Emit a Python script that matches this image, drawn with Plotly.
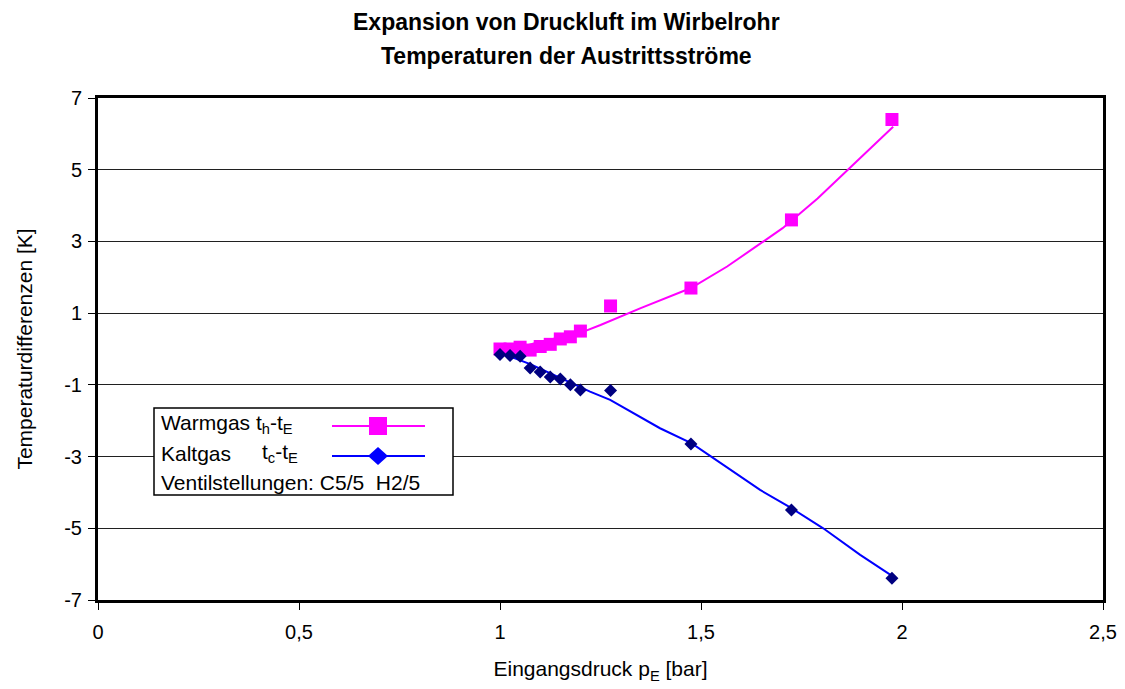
import plotly.graph_objects as go

# ---- data ----
pressure = [1.0, 1.025, 1.05, 1.075, 1.1, 1.125, 1.15, 1.175, 1.2, 1.275, 1.475, 1.725, 1.975]
warm_dt = [0.0, 0.0, 0.05, -0.03, 0.07, 0.13, 0.28, 0.34, 0.5, 1.2, 1.7, 3.6, 6.4]
cold_dt = [-0.15, -0.18, -0.2, -0.53, -0.64, -0.78, -0.84, -1.0, -1.14, -1.16, -2.65, -4.49, -6.39]

warm_fit_x = [1.0, 1.1, 1.2, 1.25, 1.35, 1.475, 1.565, 1.647, 1.703, 1.79, 1.862, 1.978]
warm_fit_y = [-0.1, 0.2, 0.45, 0.67, 1.14, 1.7, 2.3, 2.95, 3.37, 4.2, 4.97, 6.2]
cold_fit_x = [1.0, 1.075, 1.104, 1.224, 1.274, 1.398, 1.477, 1.526, 1.647, 1.725, 1.804, 1.896, 1.978]
cold_fit_y = [-0.1, -0.42, -0.57, -1.19, -1.42, -2.21, -2.63, -3.0, -3.93, -4.44, -5.0, -5.74, -6.35]

x_ticks = [0, 0.5, 1, 1.5, 2, 2.5]
x_labels = ["0", "0,5", "1", "1,5", "2", "2,5"]
y_ticks = [-7, -5, -3, -1, 1, 3, 5, 7]
y_labels = ["-7", "-5", "-3", "-1", "1", "3", "5", "7"]

FONT = "Liberation Sans, Arial, sans-serif"
W, H = 1125, 689
L, R, T, B = 98, 22, 98, 89
PW, PH = W - L - R, H - T - B


def px(xp):
    return (xp - L) / PW


def py(yp):
    return (H - B - yp) / PH


fig = go.Figure()
fig.add_trace(go.Scatter(x=warm_fit_x, y=warm_fit_y, mode="lines",
                         line=dict(color="#FF00FF", width=2),
                         showlegend=False, hoverinfo="skip"))
fig.add_trace(go.Scatter(x=cold_fit_x, y=cold_fit_y, mode="lines",
                         line=dict(color="#0000FF", width=2),
                         showlegend=False, hoverinfo="skip"))
fig.add_trace(go.Scatter(x=pressure, y=warm_dt, mode="markers", name="Warmgas",
                         marker=dict(symbol="square", size=13, color="#FF00FF",
                                     line=dict(width=0)),
                         showlegend=False))
fig.add_trace(go.Scatter(x=pressure, y=cold_dt, mode="markers", name="Kaltgas",
                         marker=dict(symbol="diamond", size=10, color="#000080",
                                     line=dict(width=0)),
                         showlegend=False))

# ---- manual legend (symbols to the right of the text) ----
shapes = []
annotations = []
bx0, by0, bx1, by1 = 154, 408, 453, 495
shapes.append(dict(type="rect", xref="paper", yref="paper",
                   x0=px(bx0), x1=px(bx1), y0=py(by1), y1=py(by0),
                   line=dict(color="black", width=1.5), fillcolor="white", layer="above"))
# row 1
shapes.append(dict(type="line", xref="paper", yref="paper",
                   x0=px(332), x1=px(425), y0=py(426), y1=py(426),
                   line=dict(color="#FF00FF", width=2)))
shapes.append(dict(type="rect", xref="paper", yref="paper",
                   x0=px(369), x1=px(387), y0=py(435), y1=py(417),
                   line=dict(width=0), fillcolor="#FF00FF"))
# row 2
shapes.append(dict(type="line", xref="paper", yref="paper",
                   x0=px(332), x1=px(425), y0=py(456), y1=py(456),
                   line=dict(color="#0000FF", width=2)))
dcx, dcy = 378, 456
shapes.append(dict(type="path", xref="paper", yref="paper",
                   path=f"M {px(dcx-10)},{py(dcy)} L {px(dcx)},{py(dcy-9)} L {px(dcx+10)},{py(dcy)} L {px(dcx)},{py(dcy+9)} Z",
                   line=dict(width=0), fillcolor="#0000FF"))

legend_font = dict(family=FONT, size=21, color="black")
annotations.append(dict(xref="paper", yref="paper", x=px(159), y=py(424),
                        xanchor="left", yanchor="middle", showarrow=False,
                        text="Warmgas t<sub>h</sub>-t<sub>E</sub>", font=legend_font))
annotations.append(dict(xref="paper", yref="paper", x=px(159), y=py(453),
                        xanchor="left", yanchor="middle", showarrow=False,
                        text="Kaltgas", font=legend_font))
annotations.append(dict(xref="paper", yref="paper", x=px(260), y=py(453),
                        xanchor="left", yanchor="middle", showarrow=False,
                        text="t<sub>c</sub>-t<sub>E</sub>", font=legend_font))
annotations.append(dict(xref="paper", yref="paper", x=px(159), y=py(482),
                        xanchor="left", yanchor="middle", showarrow=False,
                        text="Ventilstellungen: C5/5\u00a0\u00a0H2/5", font=legend_font))

# ---- title as two annotation lines ----
title_font = dict(family=FONT, size=23, color="black")
annotations.append(dict(xref="paper", yref="paper", x=px(566), y=py(22),
                        xanchor="center", yanchor="middle", showarrow=False,
                        text="<b>Expansion von Druckluft im Wirbelrohr</b>", font=title_font))
annotations.append(dict(xref="paper", yref="paper", x=px(566), y=py(56),
                        xanchor="center", yanchor="middle", showarrow=False,
                        text="<b>Temperaturen der Austrittsströme</b>", font=title_font))

fig.update_layout(
    width=W, height=H,
    margin=dict(l=L, r=R, t=T, b=B, autoexpand=False),
    paper_bgcolor="white", plot_bgcolor="white",
    separators=", ",
    font=dict(family=FONT, size=20, color="black"),
    xaxis=dict(range=[0, 2.5], tickvals=x_ticks, ticktext=x_labels,
               showgrid=False, zeroline=False, automargin=False,
               showline=True, linecolor="black", linewidth=3, mirror=True,
               ticks="outside", ticklen=7, tickwidth=1, tickcolor="black",
               ticklabelstandoff=5,
               tickfont=dict(family=FONT, size=20),
               title=dict(text="Eingangsdruck p<sub>E</sub> [bar]", standoff=20,
                          font=dict(family=FONT, size=21))),
    yaxis=dict(range=[-7, 7], tickvals=y_ticks, ticktext=y_labels,
               showgrid=True, gridcolor="#202020",
               gridwidth=1, zeroline=False, automargin=False,
               showline=True, linecolor="black", linewidth=3, mirror=True,
               ticks="outside", ticklen=7, tickwidth=1, tickcolor="black",
               ticklabelstandoff=2,
               tickfont=dict(family=FONT, size=20),
               title=dict(text="Temperaturdifferenzen [K]", standoff=26,
                          font=dict(family=FONT, size=21))),
    shapes=shapes, annotations=annotations,
)

fig.write_html("out.html", config={"displayModeBar": False},
               post_script="document.body.style.margin='0';document.body.style.padding='0';")
